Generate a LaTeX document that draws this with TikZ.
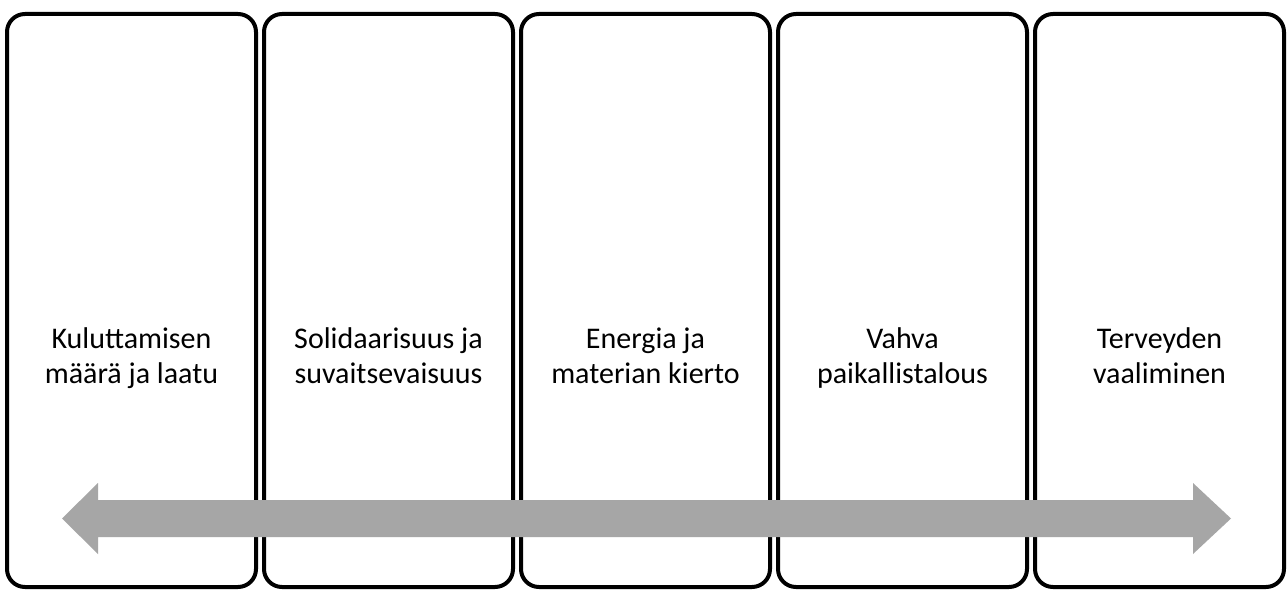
\documentclass[tikz,border=0pt]{standalone}
\usepackage{fontspec}
\setmainfont{Carlito}
\definecolor{arrowGray}{HTML}{A6A6A6}
\usetikzlibrary{positioning, calc}

\begin{document}
\begin{tikzpicture}[x=1pt, y=1pt,
  pillar/.style={draw=black, fill=white, line width=4pt, rounded corners=18pt,
    minimum width=249pt, minimum height=573pt, inner sep=0pt, outer sep=0pt},
  caption/.style={align=center, font=\fontsize{30}{35}\selectfont, inner sep=0pt,
    anchor=north, execute at begin node=\strut}]
  \useasboundingbox (0,0) rectangle (1288,590);

  \node[pillar, anchor=south west] (p1) at (7,3) {};
  \node[pillar, right=8pt of p1] (p2) {};
  \node[pillar, right=8pt of p2] (p3) {};
  \node[pillar, right=8pt of p3] (p4) {};
  \node[pillar, right=8pt of p4] (p5) {};

  \node[caption] (t1) at ($(p1.center)+(0,-26.7)$) {Kuluttamisen\\määrä ja laatu};
  \node[caption] (t2) at ($(p2.center)+(0,-26.7)$) {Solidaarisuus ja\\suvaitsevaisuus};
  \node[caption] (t3) at ($(p3.center)+(0,-26.7)$) {Energia ja\\materian kierto};
  \node[caption] (t4) at ($(p4.center)+(0,-26.7)$) {Vahva\\paikallistalous};
  \node[caption] (t5) at ($(p5.center)+(0,-26.7)$) {Terveyden\\vaaliminen};

  % two-headed arrow across all pillars
  \fill[arrowGray] (62,71.5) -- (98,107) -- (98,90) -- (1193,90) -- (1193,107)
    -- (1231,71.5) -- (1193,36) -- (1193,53) -- (98,53) -- (98,36) -- cycle;
\end{tikzpicture}
\end{document}
